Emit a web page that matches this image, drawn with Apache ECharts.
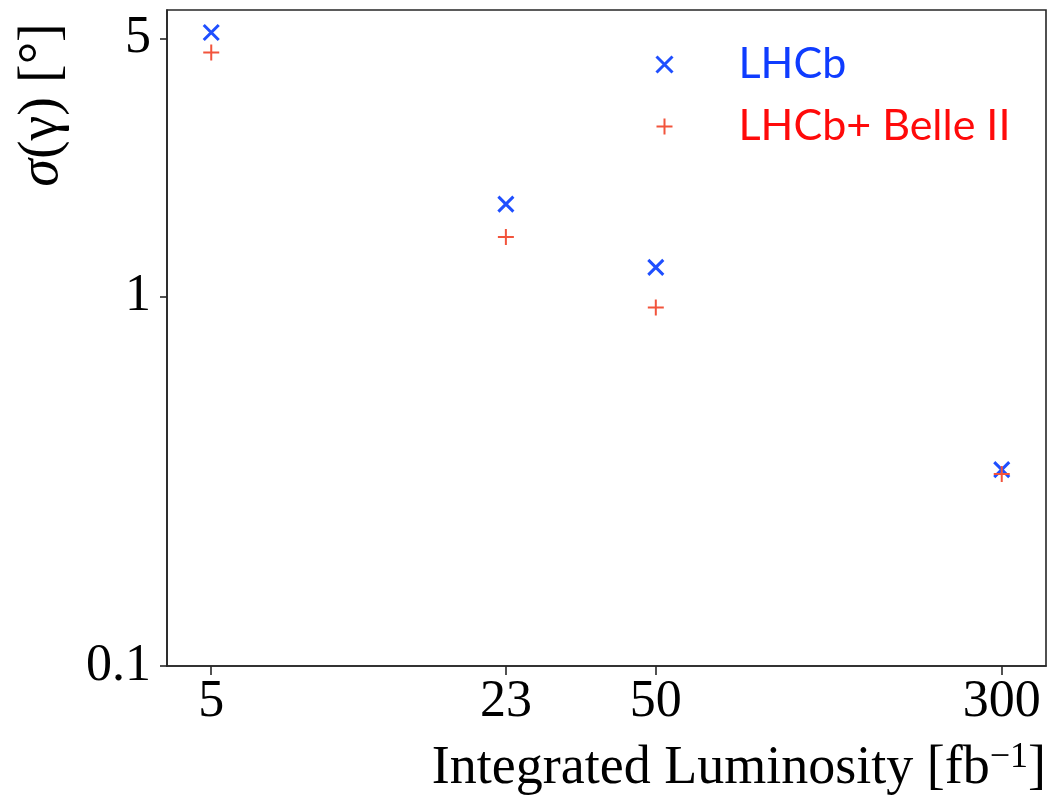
<!DOCTYPE html>
<html>
<head>
<meta charset="utf-8">
<title>Precision on gamma vs integrated luminosity</title>
<script src="https://cdn.jsdelivr.net/npm/echarts@6/dist/echarts.min.js"></script>
<style>
  html, body { margin: 0; padding: 0; background: #ffffff; }
  #chart { width: 1048px; height: 797px; }
</style>
</head>
<body>
<div id="chart"></div>
<script>
// Integrated luminosity [fb^-1] of each projection
const luminosity = [5, 23, 50, 300];
// Expected uncertainty on gamma [degrees]
const sigmaLHCb = [5.19, 1.78, 1.20, 0.340];
const sigmaCombined = [4.58, 1.45, 0.934, 0.331];
// Tick positions shown on the axes
const xTicks = [5, 23, 50, 300];
const yTicks = [0.1, 1, 5];
const seriesNames = ['LHCb', 'LHCb+ Belle II'];

const BLUE = '#1f4fff';
const RED = '#f2543c';
const SERIF = '"Liberation Serif", "DejaVu Serif", serif';
const SANS = 'Lato, "Open Sans", sans-serif';

const crossPath = 'path://M0,0L14,14M14,0L0,14';
const plusPath = 'path://M7,0L7,14M0,7L14,7';
// Legend icons carry an empty anchor to the right so the label sits further out
const crossIcon = 'path://M0,0L16,16M16,0L0,16M77,8';
const plusIcon = 'path://M8,0L8,16M0,8L16,8M77,8';

function pairs(xs, ys) {
  return xs.map((x, i) => [x, ys[i]]);
}

const chart = echarts.init(document.getElementById('chart'));

const axisLine = { show: true, lineStyle: { color: '#262626', width: 1.6 } };

chart.setOption({
  animation: false,
  backgroundColor: '#ffffff',
  grid: {
    left: 167, right: 2, top: 10, bottom: 131,
    show: true, borderColor: '#262626', borderWidth: 1.6,
    containLabel: false
  },
  xAxis: {
    type: 'log',
    logBase: 10,
    min: 3.976,
    max: 377.3,
    axisLine: axisLine,
    splitLine: { show: false },
    axisTick: { show: true, inside: false, length: 9, customValues: xTicks,
      lineStyle: { color: '#262626', width: 1.6 } },
    minorTick: { show: false },
    axisLabel: {
      customValues: xTicks,
      margin: 10,
      color: '#000000',
      fontFamily: SERIF,
      fontSize: 52,
      formatter: v => String(v)
    }
  },
  yAxis: {
    type: 'log',
    logBase: 10,
    min: 0.1,
    max: 5.97,
    axisLine: axisLine,
    splitLine: { show: false },
    axisTick: { show: true, inside: false, length: 7, customValues: yTicks,
      lineStyle: { color: '#262626', width: 1.6 } },
    minorTick: { show: false },
    axisLabel: {
      customValues: yTicks,
      margin: 16,
      color: '#000000',
      fontFamily: SERIF,
      fontSize: 52,
      formatter: v => String(Math.round(v * 10) / 10)
    }
  },
  legend: {
    orient: 'vertical',
    left: 654,
    top: 43,
    padding: 0,
    itemWidth: 77,
    itemHeight: 16,
    itemGap: 19,
    symbolKeepAspect: true,
    textStyle: { fontFamily: SANS, fontSize: 43, lineHeight: 42 },
    data: [
      { name: seriesNames[0], icon: crossIcon, textStyle: { color: '#0f3cff' },
        itemStyle: { color: 'none', borderColor: BLUE, borderWidth: 3 } },
      { name: seriesNames[1], icon: plusIcon, textStyle: { color: '#ff0a0a' },
        itemStyle: { color: 'none', borderColor: RED, borderWidth: 2 } }
    ]
  },
  series: [
    {
      name: seriesNames[0],
      type: 'scatter',
      symbol: crossPath,
      symbolSize: 15,
      itemStyle: { color: 'none', borderColor: BLUE, borderWidth: 3, opacity: 1 },
      data: pairs(luminosity, sigmaLHCb),
      z: 2
    },
    {
      name: seriesNames[1],
      type: 'scatter',
      symbol: plusPath,
      symbolSize: 16,
      itemStyle: { color: 'none', borderColor: RED, borderWidth: 2, opacity: 1 },
      data: pairs(luminosity, sigmaCombined),
      z: 3
    }
  ],
  graphic: [
    {
      type: 'text',
      x: 42,
      y: 105,
      rotation: Math.PI / 2,
      style: {
        text: '{i|σ}(γ) [°]',
        fontFamily: SERIF,
        fontSize: 56,
        fill: '#000000',
        align: 'center',
        verticalAlign: 'middle',
        rich: {
          i: { fontFamily: SERIF, fontSize: 56, fontStyle: 'italic', fill: '#000000' }
        }
      }
    },
    {
      type: 'text',
      x: 1046,
      y: 769,
      style: {
        text: '{n|Integrated Luminosity [fb}{s|−1}{n|]}',
        fontFamily: SERIF,
        fontSize: 54,
        fill: '#000000',
        align: 'right',
        verticalAlign: 'middle',
        rich: {
          n: { fontFamily: SERIF, fontSize: 54, lineHeight: 58, fill: '#000000' },
          s: { fontFamily: SERIF, fontSize: 36, lineHeight: 58, verticalAlign: 'top', fill: '#000000' }
        }
      }
    }
  ]
});
</script>
</body>
</html>
